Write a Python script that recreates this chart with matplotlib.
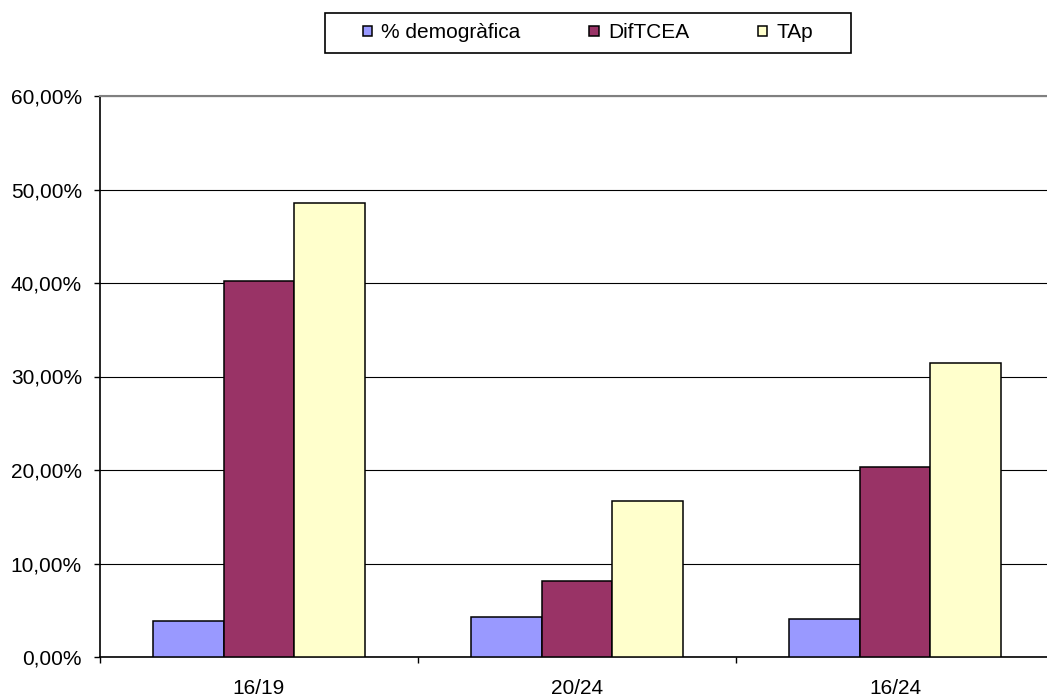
import matplotlib.pyplot as plt
from matplotlib.patches import Rectangle
from matplotlib.ticker import FuncFormatter, FixedLocator
import numpy as np

plt.rcParams['font.family'] = ['Liberation Sans', 'DejaVu Sans']

# Data
categories = ["16/19", "20/24", "16/24"]
series_names = ["% demogràfica", "DifTCEA", "TAp"]
demografica = [3.85, 4.3, 4.1]
diftcea = [40.2, 8.1, 20.3]
tap = [48.6, 16.7, 31.4]
colors = ["#9999FF", "#993366", "#FFFFCC"]

W, H = 1047, 699
fig = plt.figure(figsize=(W / 100, H / 100), dpi=100)
ax = fig.add_axes([100 / W, 1 - 657 / H, 954 / W, (657 - 96) / H])

x = np.arange(len(categories))
bw = 0.222
for i, (vals, name) in enumerate(zip([demografica, diftcea, tap], series_names)):
    ax.bar(x + (i - 1) * bw, vals, width=bw, color=colors[i], edgecolor="black",
           linewidth=1.1, label=name, zorder=3)

ax.set_xlim(-0.5, 2.5)
ax.set_ylim(0, 60)
ax.set_yticks(np.arange(0, 61, 10))
ax.yaxis.set_major_formatter(FuncFormatter(lambda v, p: f"{v:.2f}".replace(".", ",") + "%"))
ax.yaxis.grid(True, color="black", linewidth=0.8, zorder=0)
ax.set_axisbelow(True)

ax.set_xticks(x)
ax.set_xticklabels(categories)
ax.xaxis.set_minor_locator(FixedLocator([-0.5, 0.5, 1.5, 2.5]))
ax.tick_params(axis="x", which="major", length=0, pad=16, labelsize=15)
ax.tick_params(axis="x", which="minor", length=4, width=1, direction="out")
ax.tick_params(axis="y", length=4, width=1, pad=9, labelsize=15)

ax.spines["right"].set_visible(False)
ax.spines["top"].set_color("#808080")
ax.spines["top"].set_linewidth(1.5)
ax.spines["left"].set_linewidth(1.2)
ax.spines["bottom"].set_linewidth(1.2)

# legend with a box drawn by hand
fig.patches.append(Rectangle((325 / W, 1 - 53 / H), 526 / W, 40 / H, transform=fig.transFigure,
                             facecolor="white", edgecolor="black", linewidth=1.2))
fig.legend(loc="center", bbox_to_anchor=(588 / W, 1 - 33 / H), ncol=3, frameon=False,
           fontsize=15, handlelength=0.45, handleheight=0.3, handletextpad=0.45,
           columnspacing=3.3)

fig.savefig("out.png", dpi=100)
